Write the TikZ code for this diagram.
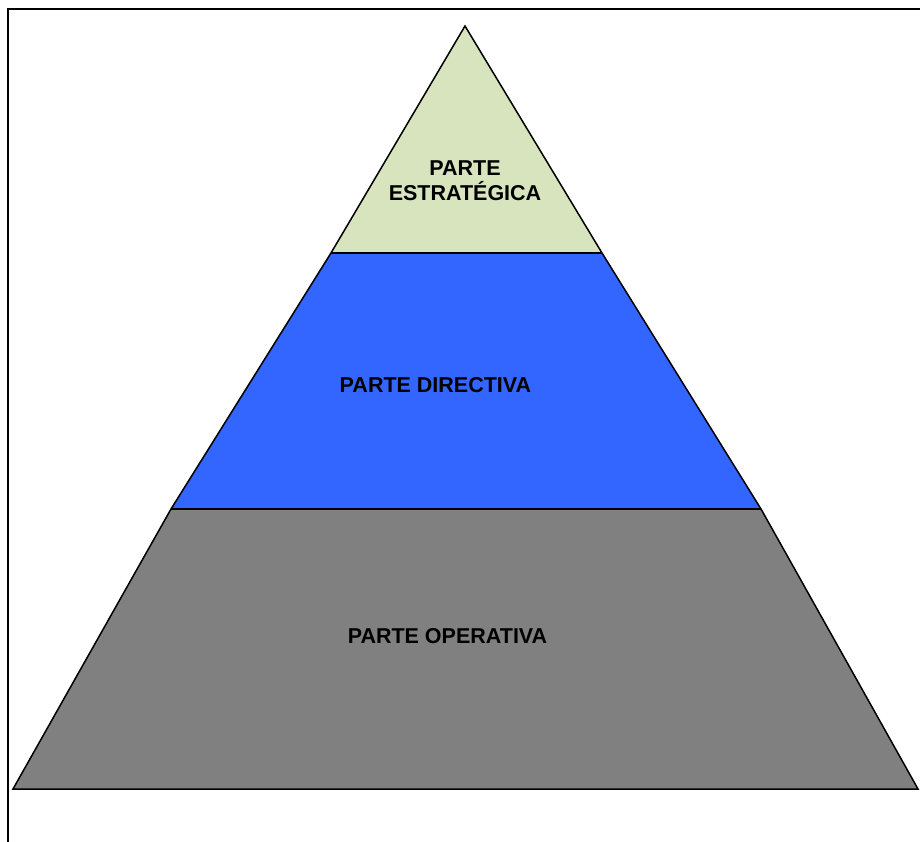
\documentclass[tikz,border=0pt]{standalone}
\usepackage{fontspec}
\setmainfont{Liberation Sans}
\definecolor{topgreen}{HTML}{D7E4BD}
\definecolor{midblue}{HTML}{3366FF}
\definecolor{lowgray}{HTML}{808080}
\begin{document}
\begin{tikzpicture}[x=1pt,y=-1pt,
  band/.style={draw=black,line width=1.5pt,line join=miter},
  lbl/.style={font=\fontsize{21.5}{24.5}\selectfont\bfseries,align=center,inner sep=0pt}]
\useasboundingbox (0,0) rectangle (920,842);
% frame
\draw[line width=2.2pt] (8,842) -- (8,9) -- (920,9);
% coordinates
\coordinate (apex) at (465,26);
\coordinate (l1) at (331,253);
\coordinate (r1) at (602,253);
\coordinate (l2) at (171,509);
\coordinate (r2) at (761,509);
\coordinate (l3) at (13,789);
\coordinate (r3) at (918,789);
% bands
\fill[lowgray] (l2) -- (r2) -- (r3) -- (l3) -- cycle;
\fill[midblue] (l1) -- (r1) -- (r2) -- (l2) -- cycle;
\fill[topgreen] (apex) -- (r1) -- (l1) -- cycle;
\draw[band] (apex) -- (r1) -- (r2) -- (r3) -- (l3) -- (l2) -- (l1) -- cycle;
\draw[band] (l1) -- (r1);
\draw[band] (l2) -- (r2);
% labels
\node[lbl] (t1) at (465,180.5) {PARTE\\ESTRATÉGICA};
\node[lbl] (t2) at (435.5,385) {PARTE DIRECTIVA};
\node[lbl] (t3) at (447.5,636) {PARTE OPERATIVA};
\end{tikzpicture}
\end{document}
